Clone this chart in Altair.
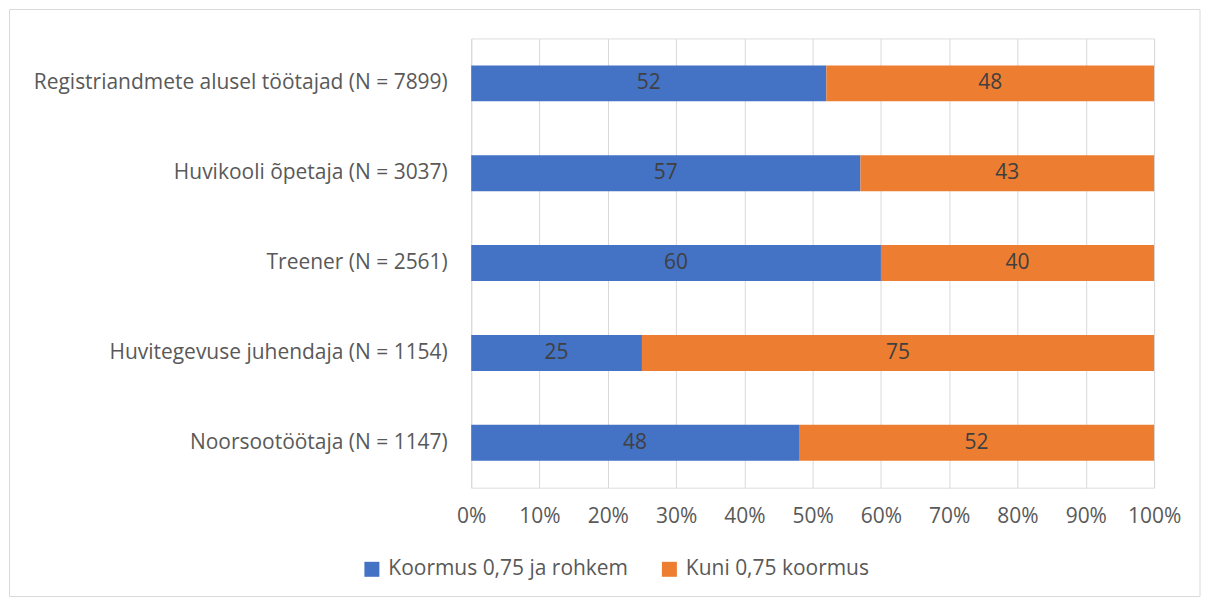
import altair as alt
import pandas as pd

categories = [
    "Registriandmete alusel töötajad (N = 7899)",
    "Huvikooli õpetaja (N = 3037)",
    "Treener (N = 2561)",
    "Huvitegevuse juhendaja (N = 1154)",
    "Noorsootöötaja (N = 1147)",
]
series_names = ["Koormus 0,75 ja rohkem", "Kuni 0,75 koormus"]
full_load = [52, 57, 60, 25, 48]
part_load = [48, 43, 40, 75, 52]
colors = ["#4472C4", "#ED7D31"]

rows = []
for cat, a, b in zip(categories, full_load, part_load):
    total = a + b
    start = 0.0
    for k, (name, v) in enumerate(zip(series_names, [a, b])):
        rows.append({
            "cat": cat, "series": name, "order": k, "value": v,
            "start": start / total, "end": (start + v) / total,
            "mid": (start + v / 2) / total,
        })
        start += v
df = pd.DataFrame(rows)

FONT = "Open Sans"
FS = 21

y = alt.Y("cat:N", sort=categories, title=None,
          scale=alt.Scale(paddingInner=0.6, paddingOuter=0.3),
          axis=alt.Axis(labelFontSize=FS, labelColor="#595959", labelFont=FONT,
                        ticks=False, domain=False, labelPadding=24, labelLimit=600))

bars = alt.Chart(df).mark_bar(size=36).encode(
    x=alt.X("start:Q", title=None, scale=alt.Scale(domain=[0, 1], nice=False),
            axis=alt.Axis(format="%", values=[i / 10 for i in range(11)],
                          labelFontSize=FS, labelColor="#595959", labelFont=FONT,
                          labelFlush=False, labelOverlap=False,
                          ticks=False, domain=False, labelPadding=18,
                          grid=True, gridColor="#D9D9D9", gridWidth=1)),
    x2="end:Q",
    y=y,
    color=alt.Color("series:N", sort=series_names,
                    scale=alt.Scale(domain=series_names, range=colors),
                    legend=alt.Legend(title=None, orient="none", direction="horizontal",
                                      legendX=-110, legendY=521,
                                      symbolType="square", symbolSize=225,
                                      symbolStrokeWidth=0, labelOffset=6,
                                      labelFontSize=FS, labelColor="#595959",
                                      labelFont=FONT, columnPadding=30, labelLimit=400)),
)

labels = alt.Chart(df).mark_text(fontSize=FS, color="#404040", font=FONT).encode(
    x="mid:Q",
    y=alt.Y("cat:N", sort=categories),
    text="value:Q",
)

border = alt.Chart(pd.DataFrame({"a": [0]})).mark_rect(
    fill=None, stroke="#D9D9D9", strokeWidth=1
).encode(
    x=alt.value(-462.5), x2=alt.value(730), y=alt.value(-29), y2=alt.value(559)
)

chart = alt.layer(border, bars, labels).properties(
    width=684, height=450,
    autosize=alt.AutoSizeParams(type="none"),
    padding={"left": 464, "top": 30, "right": 47, "bottom": 110},
).configure_view(stroke=None).configure(background="white")

chart.save("out.html", embed_options={"renderer": "svg", "actions": False})
